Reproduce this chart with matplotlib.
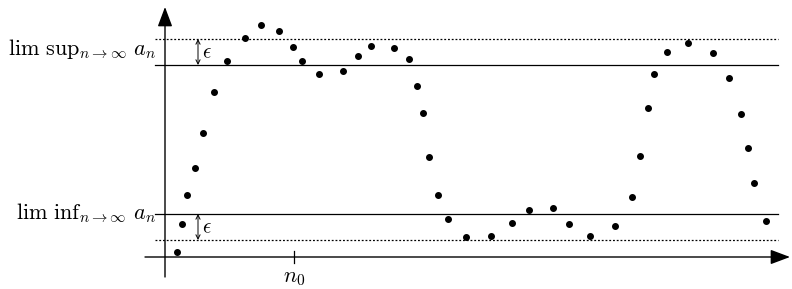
import matplotlib
matplotlib.use('Agg')
import matplotlib.pyplot as plt

plt.rcParams['mathtext.fontset'] = 'cm'

# sequence a_n (x position, value)
n_pos = [12, 17, 22, 30, 38, 49, 62, 80, 96, 114, 128, 137, 154, 178, 193,
         206, 229, 244, 252, 258, 264, 273, 283, 301, 326, 347, 364, 388,
         404, 425, 450, 467, 475, 483, 489, 502, 523, 548, 564, 576, 583,
         589, 601]
a_vals = [5, 33, 62, 89, 124, 165, 196, 219, 232, 226, 210, 196, 183, 186,
          201, 211, 209, 198, 171, 144, 100, 62, 38, 20, 21, 34, 47, 49,
          33, 21, 31, 60, 101, 149, 183, 205, 214, 204, 179, 143, 109, 74, 36]

lim_sup = 192
lim_inf = 43
eps = 26
n0 = 129

fig = plt.figure(figsize=(7.92, 2.89), dpi=100)
ax = fig.add_axes([0, 0, 1, 1])
ax.set_xlim(-165, 627)
ax.set_ylim(-32, 257)
ax.axis('off')

# axes with arrows
head = dict(arrowstyle='-|>,head_length=0.8,head_width=0.3', mutation_scale=15,
            color='black', lw=1.0, shrinkA=0, shrinkB=0)
ax.annotate('', xy=(625, 0), xytext=(-20, 0), arrowprops=head)
ax.annotate('', xy=(0, 250), xytext=(0, -20), arrowprops=head)

# limit lines
ax.plot([-10, 613], [lim_sup, lim_sup], color='black', lw=0.9)
ax.plot([-10, 613], [lim_inf, lim_inf], color='black', lw=0.9)
ax.plot([-10, 613], [lim_sup + eps] * 2, color='black', lw=0.9, ls=(0, (1.5, 1.5)))
ax.plot([-10, 613], [lim_inf - eps] * 2, color='black', lw=0.9, ls=(0, (1.5, 1.5)))

# epsilon arrows
dbl = dict(arrowstyle='<->,head_length=0.3,head_width=0.15', mutation_scale=10,
           color='black', lw=0.7, shrinkA=0, shrinkB=0)
ax.annotate('', xy=(33, lim_sup + eps), xytext=(33, lim_sup), arrowprops=dbl)
ax.annotate('', xy=(33, lim_inf), xytext=(33, lim_inf - eps), arrowprops=dbl)
ax.text(37, lim_sup + eps / 2, r'$\epsilon$', fontsize=15, va='center', ha='left')
ax.text(37, lim_inf - eps / 2, r'$\epsilon$', fontsize=15, va='center', ha='left')

# labels
ax.text(-9, lim_sup + 16, r'$\mathrm{lim\ sup}_{n\rightarrow\infty}\ a_n$',
        fontsize=16, ha='right', va='center')
ax.text(-9, lim_inf + 1, r'$\mathrm{lim\ inf}_{n\rightarrow\infty}\ a_n$',
        fontsize=16, ha='right', va='center')

# n0 tick
ax.plot([n0, n0], [-6, 6], color='black', lw=0.9)
ax.text(n0, -21, r'$n_0$', fontsize=16, ha='center', va='center')

# the sequence
ax.plot(n_pos, a_vals, 'o', color='black', markersize=4)

fig.savefig('out.png', dpi=100)
